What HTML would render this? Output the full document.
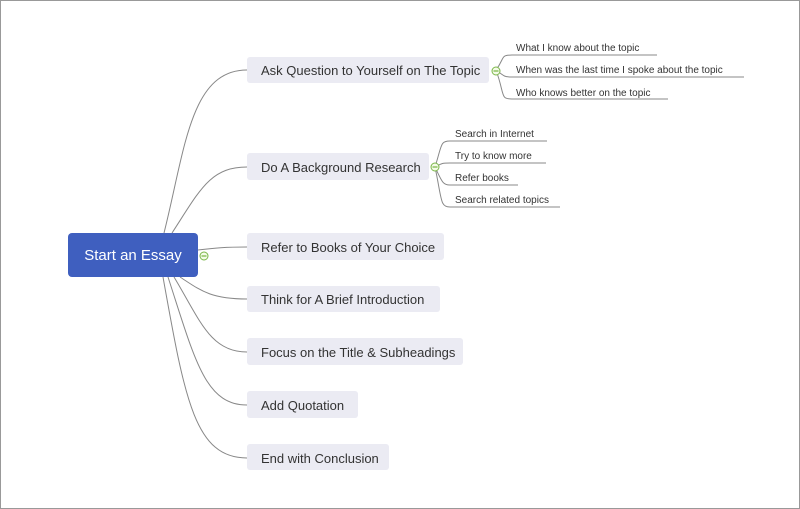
<!DOCTYPE html>
<html><head><style>body{margin:0}svg{display:block}</style></head><body>
<svg width="800" height="509" xmlns="http://www.w3.org/2000/svg" font-family="Liberation Sans, sans-serif">
<rect x="0.5" y="0.5" width="799" height="508" fill="#fff" stroke="#999"/>
<g fill="none" stroke="#888" stroke-width="1">
<path d="M164,233 C185,150 190,70 247,70"/>
<path d="M172,233 C200,190 210,167 247,167"/>
<path d="M198,250 C215,248 225,247 247,247"/>
<path d="M180,277 C200,290 210,299 247,299"/>
<path d="M174,277 C200,320 210,352 247,352"/>
<path d="M168,277 C195,360 205,405 247,405"/>
<path d="M163,277 C185,400 195,458 247,458"/>
<path d="M496,70 C505,58 500,55 512,55 L657,55"/>
<path d="M496,70 C505,77 505,77 512,77 L744,77"/>
<path d="M496,70 C505,95 500,99 512,99 L668,99"/>
<path d="M435,167 C442,145 440,141 450,141 L547,141"/>
<path d="M435,167 C442,163 443,163 450,163 L546,163"/>
<path d="M435,167 C442,182 443,185 450,185 L518,185"/>
<path d="M435,167 C442,200 440,207 450,207 L560,207"/>
</g>
<rect x="68" y="233" width="130" height="44" rx="4" fill="#3f5fbf"/>
<text x="133" y="260" fill="#fff" font-size="15" text-anchor="middle">Start an Essay</text>
<g fill="#ebebf3">
<rect x="247" y="57" width="242" height="26" rx="3"/>
<rect x="247" y="153" width="182" height="27" rx="3"/>
<rect x="247" y="233" width="197" height="27" rx="3"/>
<rect x="247" y="286" width="193" height="26" rx="3"/>
<rect x="247" y="338" width="216" height="27" rx="3"/>
<rect x="247" y="391" width="111" height="27" rx="3"/>
<rect x="247" y="444" width="142" height="26" rx="3"/>
</g>
<g fill="#333" font-size="13">
<text x="261" y="75">Ask Question to Yourself on The Topic</text>
<text x="261" y="172">Do A Background Research</text>
<text x="261" y="252">Refer to Books of Your Choice</text>
<text x="261" y="304">Think for A Brief Introduction</text>
<text x="261" y="357">Focus on the Title &amp; Subheadings</text>
<text x="261" y="410">Add Quotation</text>
<text x="261" y="463">End with Conclusion</text>
</g>
<g fill="#333" font-size="10">
<text x="516" y="51">What I know about the topic</text>
<text x="516" y="73">When was the last time I spoke about the topic</text>
<text x="516" y="96">Who knows better on the topic</text>
<text x="455" y="137">Search in Internet</text>
<text x="455" y="159">Try to know more</text>
<text x="455" y="181">Refer books</text>
<text x="455" y="203">Search related topics</text>
</g>
<g fill="#f4fbe8" stroke="#7ab648" stroke-width="1">
<circle cx="204" cy="256" r="4"/><circle cx="496" cy="71" r="4"/><circle cx="435" cy="167" r="4"/>
</g>
<g stroke="#7ab648" stroke-width="1.2">
<path d="M201.5,256 H206.5 M493.5,71 H498.5 M432.5,167 H437.5"/>
</g>
</svg>
</body></html>
